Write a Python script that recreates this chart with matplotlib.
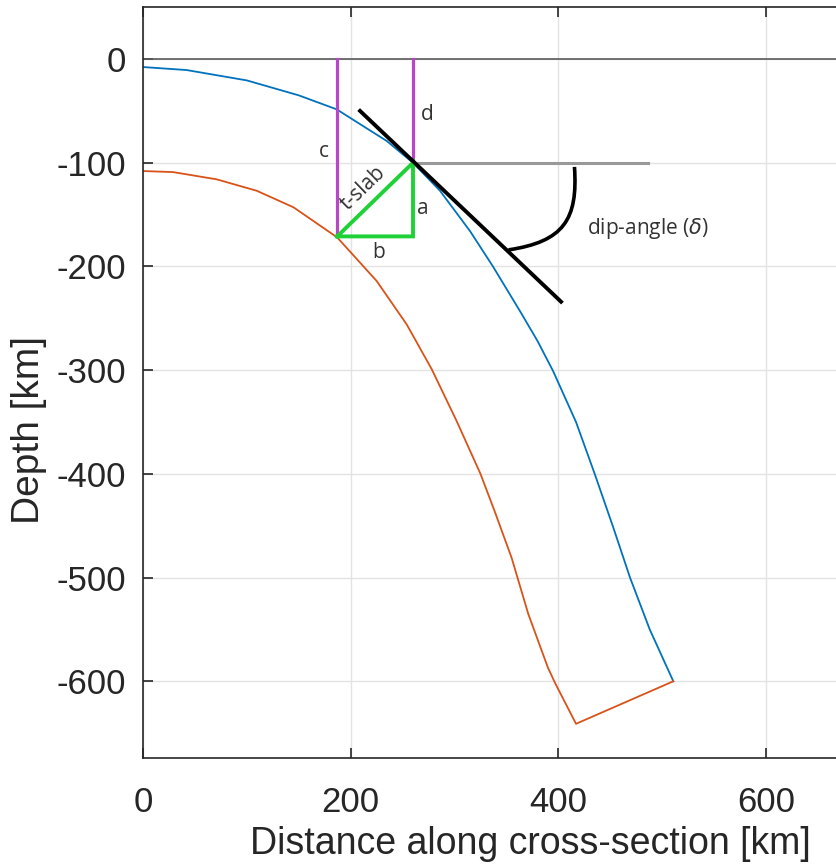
import numpy as np
import matplotlib.pyplot as plt
from matplotlib.path import Path
from matplotlib.patches import PathPatch

plt.rcParams["axes.unicode_minus"] = False

# Slab top (upper interface) along the cross-section, km
top_x = [0, 42, 100, 150, 186.5, 234.7, 260, 286, 315, 337, 363, 380, 395,
         417, 435, 453, 469, 488, 510.7]
top_z = [-7.7, -10.6, -20.6, -35, -48.5, -79, -100, -127, -166, -200, -243, -272,
         -301, -350, -400, -452, -500, -550, -600]

# Slab bottom (lower interface), closed back to the end of the top
bot_x = [0, 29, 71, 109.5, 145, 187, 225, 254, 278, 302, 325, 339, 355, 371,
         390, 397, 417, 510.7]
bot_z = [-108, -109, -116, -127, -143, -172, -214, -256, -299, -349, -400, -437,
         -481, -535, -587, -602, -641, -600]

# Construction: measuring point on the slab top and the foot of t-slab
pt_x, pt_z = 260, -100
foot_x, foot_z = 187, -171

# Tangent (dip) line and horizontal reference
tan_x = [209, 402.6]
tan_z = [-50, -234]
hor_x = [260, 486]
hor_z = [-100, -100]

# Angle arc (cubic Bezier control points)
arc_pts = [(415.5, -104), (419, -155), (405, -176), (352, -184)]

xticks = [0, 200, 400, 600]
yticks = [0, -100, -200, -300, -400, -500, -600]

fig = plt.figure(figsize=(8.36, 8.68), dpi=100)
ax = fig.add_axes([0.1711, 0.1267, 0.9315, 0.865])

ax.set_xlim(0, 750)
ax.set_ylim(-674, 50)

ax.set_xticks(xticks)
ax.set_yticks(yticks)
ax.grid(True, color="#e3e3e3", lw=1.0)
ax.set_axisbelow(True)

ax.axhline(0, color="#5a5a5a", lw=1.2, zorder=1)

ax.plot(top_x, top_z, color="#0072BD", lw=1.3, zorder=2)
ax.plot(bot_x, bot_z, color="#D95319", lw=1.3, zorder=2)

# c and d verticals
ax.plot([foot_x, foot_x], [0, foot_z], color="#B946C6", lw=2.3, zorder=3)
ax.plot([pt_x, pt_x], [0, pt_z], color="#B946C6", lw=2.3, zorder=3)

# triangle a-b-t-slab
ax.plot([foot_x, pt_x, pt_x, foot_x], [foot_z, pt_z, foot_z, foot_z],
        color="#1ED236", lw=2.8, solid_joinstyle="miter", zorder=4)

ax.plot(hor_x, hor_z, color="#999999", lw=2.2, zorder=3)
ax.plot(tan_x, tan_z, color="black", lw=2.8, zorder=5)

codes = [Path.MOVETO, Path.CURVE4, Path.CURVE4, Path.CURVE4]
ax.add_patch(PathPatch(Path(arc_pts, codes), facecolor="none",
                       edgecolor="black", lw=2.6, zorder=5))

lab = dict(family="Open Sans", fontsize=15, color="#333333")
ax.text(179, -89, "c", ha="right", va="center", **lab)
ax.text(268, -53, "d", ha="left", va="center", **lab)
ax.text(264, -144, "a", ha="left", va="center", **lab)
ax.text(227, -187, "b", ha="center", va="center", **lab)
ax.text(212, -125, "t-slab", ha="center", va="center", rotation=44,
        rotation_mode="anchor", **lab)
ax.text(428, -163, r"dip-angle ($\delta$)", ha="left", va="center", **lab)

for s in ax.spines.values():
    s.set_color("#262626")
    s.set_linewidth(1.2)

ax.tick_params(direction="in", length=7, width=1.2, color="#262626",
               top=True, right=True, labelsize=25, labelcolor="#262626")
ax.tick_params(axis="x", pad=20)
ax.tick_params(axis="y", pad=12)
for t in ax.get_xticklabels() + ax.get_yticklabels():
    t.set_family("Liberation Sans")

ax.set_xlabel("Distance along cross-section [km]", family="Liberation Sans",
              fontsize=27, color="#262626")
ax.set_ylabel("Depth [km]", family="Liberation Sans", fontsize=28,
              color="#262626")
ax.xaxis.set_label_coords(0.498, -0.0906)
ax.xaxis.label.set_va("top")
ax.yaxis.set_label_coords(-0.123, 0.437)

fig.savefig("out.png", dpi=100)
